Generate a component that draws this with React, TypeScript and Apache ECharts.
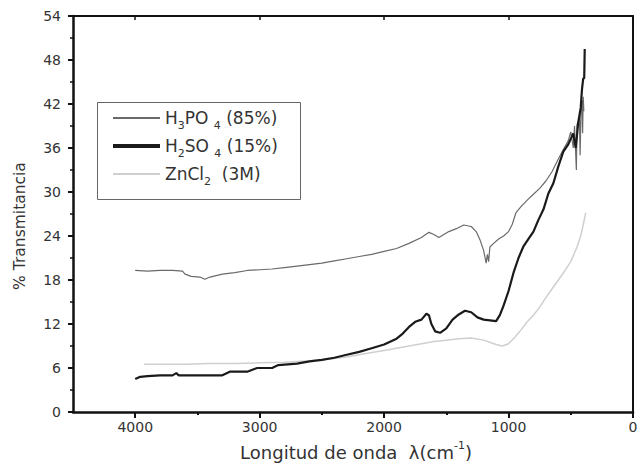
import React, { useEffect, useRef } from "react";
import * as echarts from "echarts";

const FONT = '"DejaVu Sans", "Liberation Sans", sans-serif';

const xMajorTicks = [0, 1000, 2000, 3000, 4000];
const xMinorTicks = [500, 1500, 2500, 3500];
const seriesNames = ["H3PO4 (85%)", "H2SO4 (15%)", "ZnCl2 (3M)"];
const legendLabels = ["H{s|3}PO {s|4} (85%)", "H{s|2}SO {s|4} (15%)", "ZnCl{s|2}  (3M)"];
const seriesColors = ["#6a6a6a", "#1a1a1a", "#cfcfcf"];
const legendIcons = ["path://M0,0H47V2H0Z", "path://M0,0H47V4H0Z", "path://M0,0H47V2H0Z"];

const h3po4: [number, number][] = [
  [4000, 19.3], [3900, 19.2], [3800, 19.3], [3700, 19.3], [3620, 19.2], [3600, 18.8],
  [3550, 18.5], [3480, 18.4], [3440, 18.1], [3400, 18.4], [3300, 18.8], [3200, 19.0],
  [3100, 19.3], [3000, 19.4], [2900, 19.5], [2800, 19.7], [2700, 19.9], [2600, 20.1],
  [2500, 20.3], [2400, 20.6], [2300, 20.9], [2200, 21.2], [2100, 21.5], [2000, 21.9],
  [1900, 22.3], [1800, 23.0], [1700, 23.8], [1640, 24.5], [1600, 24.2], [1560, 23.8],
  [1520, 24.2], [1480, 24.6], [1420, 25.0], [1360, 25.5], [1300, 25.3], [1260, 24.6],
  [1230, 23.5], [1200, 22.0], [1180, 20.3], [1170, 21.5], [1160, 20.5], [1150, 22.5],
  [1120, 23.0], [1080, 23.6], [1040, 24.0], [1000, 24.6], [970, 25.6], [940, 27.2],
  [900, 28.0], [850, 28.9], [800, 29.7], [750, 30.5], [700, 31.5], [650, 32.8],
  [600, 34.5], [560, 35.8], [520, 37.0], [500, 38.2], [480, 36.0], [470, 39.0],
  [455, 33.0], [450, 39.2], [430, 40.0], [425, 35.0], [418, 41.0], [410, 42.5],
  [405, 38.0], [400, 43.0], [395, 41.0],
];

const h2so4: [number, number][] = [
  [4000, 4.5], [3960, 4.8], [3900, 4.9], [3800, 5.0], [3700, 5.0], [3670, 5.3],
  [3650, 5.0], [3500, 5.0], [3300, 5.0], [3240, 5.5], [3100, 5.5], [3020, 6.0],
  [2900, 6.0], [2850, 6.4], [2700, 6.6], [2600, 6.9], [2500, 7.1], [2400, 7.4],
  [2300, 7.8], [2200, 8.2], [2100, 8.7], [2000, 9.2], [1900, 10.0], [1850, 10.7],
  [1800, 11.6], [1750, 12.3], [1700, 12.6], [1660, 13.4], [1640, 13.2], [1620, 12.0],
  [1590, 11.0], [1550, 10.8], [1500, 11.4], [1450, 12.6], [1400, 13.3], [1350, 13.8],
  [1300, 13.6], [1250, 12.9], [1200, 12.6], [1150, 12.5], [1100, 12.4], [1070, 13.2],
  [1040, 14.5], [1000, 16.5], [960, 19.0], [920, 21.0], [880, 22.6], [840, 23.6],
  [800, 24.6], [760, 26.2], [720, 27.6], [680, 29.8], [640, 31.2], [600, 33.5],
  [560, 35.5], [520, 36.5], [480, 38.0], [460, 36.0], [440, 39.5], [430, 40.5],
  [420, 41.5], [410, 44.0], [400, 45.5], [392, 45.5], [388, 49.5],
];

const zncl2: [number, number][] = [
  [3930, 6.5], [3800, 6.5], [3600, 6.5], [3400, 6.6], [3200, 6.6], [3000, 6.7],
  [2800, 6.8], [2600, 7.0], [2450, 7.2], [2300, 7.5], [2200, 7.8], [2100, 8.1],
  [2000, 8.4], [1900, 8.7], [1800, 9.0], [1700, 9.3], [1600, 9.6], [1500, 9.8],
  [1400, 10.0], [1300, 10.1], [1200, 9.8], [1100, 9.2], [1050, 9.0], [1000, 9.3],
  [950, 10.2], [900, 11.2], [850, 12.3], [800, 13.2], [750, 14.3], [700, 15.6],
  [650, 16.8], [600, 18.0], [550, 19.2], [500, 20.5], [450, 22.5], [420, 24.0],
  [400, 25.5], [380, 27.2],
];

const seriesData = [h3po4, h2so4, zncl2];
const seriesWidths = [1.2, 2.2, 1.5];
const seriesZ = [3, 4, 2];

export default function App() {
  const ref = useRef<HTMLDivElement>(null);
  useEffect(() => {
    if (!ref.current) return;
    const chart = echarts.init(ref.current, undefined, { renderer: "svg" });
    const option: any = {
      animation: false,
      backgroundColor: "#ffffff",
      grid: { left: 73, right: 9, top: 16, bottom: 56, containLabel: false, outerBoundsMode: "none" },
      legend: {
        orient: "vertical",
        left: 97,
        top: 102,
        padding: [3.5, 20, 12.5, 16],
        itemGap: 3,
        itemWidth: 47,
        itemHeight: 14,
        borderWidth: 0,
        backgroundColor: "transparent",
        selectedMode: false,
        data: seriesNames.map((n, i) => ({
          name: n,
          icon: legendIcons[i],
          itemStyle: { color: seriesColors[i], borderWidth: 0 },
        })),
        formatter: (n: string) => legendLabels[seriesNames.indexOf(n)],
        textStyle: {
          fontFamily: FONT,
          fontSize: 17,
          color: "#333",
          rich: {
            s: { fontFamily: FONT, fontSize: 11, lineHeight: 11, padding: [14, 0, 0, 0], color: "#333" },
          },
        },
      },
      xAxis: [
        {
          type: "value", min: 0, max: 4500, inverse: true, position: "bottom",
          axisLine: { show: true, onZero: false, lineStyle: { color: "#111", width: 2.5 } },
          axisTick: { show: true, inside: false, length: 6, customValues: xMajorTicks, lineStyle: { color: "#111", width: 2 } },
          axisLabel: {
            customValues: xMajorTicks, fontFamily: FONT, fontSize: 14, color: "#333", margin: 8,
            formatter: (v: number) => String(v),
          },
          splitLine: { show: false },
        },
        {
          type: "value", min: 0, max: 4500, inverse: true, position: "bottom",
          axisLine: { show: false, onZero: false },
          axisTick: { show: true, inside: false, length: 3, customValues: xMinorTicks, lineStyle: { color: "#111", width: 2 } },
          axisLabel: { show: false },
          splitLine: { show: false },
        },
        {
          type: "value", min: 0, max: 4500, inverse: true, position: "top",
          axisLine: { show: true, onZero: false, lineStyle: { color: "#111", width: 2 } },
          axisTick: { show: true, inside: true, length: 4, customValues: xMajorTicks, lineStyle: { color: "#111", width: 1.5 } },
          axisLabel: { show: false },
          splitLine: { show: false },
        },
      ],
      yAxis: [
        {
          type: "value", min: 0, max: 54, interval: 6, position: "left",
          axisLine: { show: true, onZero: false, lineStyle: { color: "#111", width: 2.5 } },
          axisTick: { show: true, inside: false, length: 5, lineStyle: { color: "#111", width: 2 } },
          minorTick: { show: true, splitNumber: 2, length: 3, lineStyle: { color: "#111", width: 1.5 } },
          axisLabel: { fontFamily: FONT, fontSize: 14, color: "#333", margin: 12 },
          splitLine: { show: false },
          minorSplitLine: { show: false },
        },
        {
          type: "value", min: 0, max: 54, interval: 6, position: "right",
          axisLine: { show: true, onZero: false, lineStyle: { color: "#111", width: 2 } },
          axisTick: { show: false },
          axisLabel: { show: false },
          splitLine: { show: false },
        },
      ],
      series: seriesNames.map((n, i) => ({
        name: n,
        type: "line",
        xAxisIndex: 0,
        yAxisIndex: 0,
        data: seriesData[i],
        symbol: "none",
        showSymbol: false,
        z: seriesZ[i],
        lineStyle: { color: seriesColors[i], width: seriesWidths[i] },
        itemStyle: { color: seriesColors[i] },
      })),
      graphic: [
        {
          type: "rect",
          z: 0,
          shape: { x: 97.5, y: 102.5, width: 203, height: 97 },
          style: { fill: "none", stroke: "#666", lineWidth: 1 },
        },
        {
          type: "text",
          x: 20,
          y: 226,
          rotation: Math.PI / 2,
          style: {
            text: "% Transmitancia",
            fontFamily: FONT,
            fontSize: 15.5,
            fill: "#333",
            align: "center",
            verticalAlign: "middle",
          },
        },
        {
          type: "text",
          x: 356,
          y: 452,
          style: {
            text: "Longitud de onda  λ(cm{p|-1})",
            fontFamily: FONT,
            fontSize: 18,
            fill: "#333",
            align: "center",
            verticalAlign: "middle",
            rich: { p: { fontFamily: FONT, fontSize: 11, padding: [0, 0, 14, 0], fill: "#333" } },
          },
        },
      ],
    };
    chart.setOption(option);
    return () => chart.dispose();
  }, []);
  return <div ref={ref} style={{ position: "absolute", left: 0, top: 0, width: 642, height: 468 }} />;
}
